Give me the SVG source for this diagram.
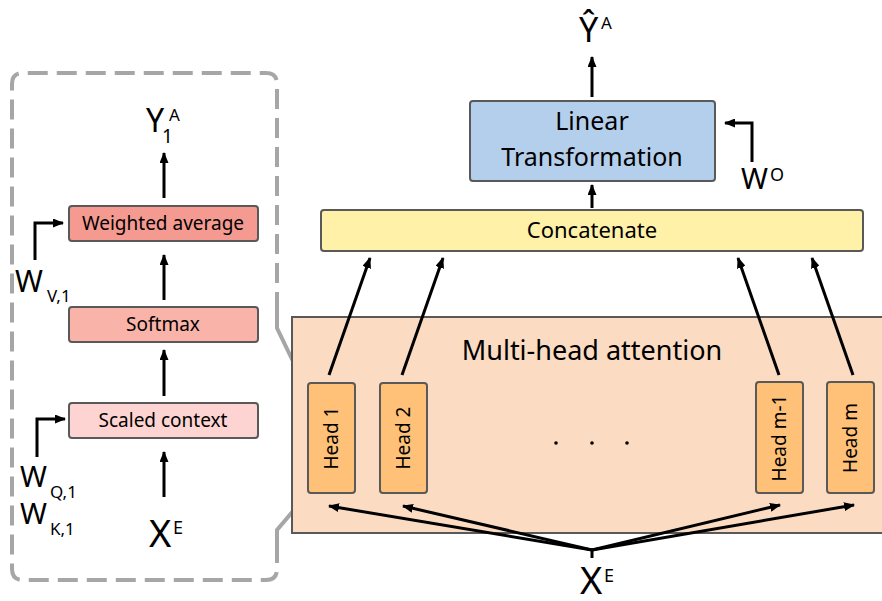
<svg xmlns="http://www.w3.org/2000/svg" width="882" height="601" viewBox="0 0 882 601">
<style>
text{font-family:"Noto Sans","Open Sans","DejaVu Sans",sans-serif;fill:#000}
.box{stroke:#595959;stroke-width:2}
.c{stroke:#000;stroke-width:3;fill:none}
.g{stroke:#A6A6A6;stroke-width:4;fill:none}
.m{text-anchor:middle}
</style>
<defs>
<marker id="ah" markerUnits="userSpaceOnUse" markerWidth="11" markerHeight="9" refX="10" refY="4.5" orient="auto">
<path d="M0,0 L11,4.5 L0,9 z" fill="#000"/>
</marker>
</defs>
<rect width="882" height="601" fill="#fff"/>

<g id="frame">
<path class="g" stroke-dasharray="20 9" d="M277,312 L277,84 Q277,73 266,73 L23,73 Q12,73 12,84 L12,569 Q12,580 23,580 L266,580 Q277,580 277,569 L277,548"/>
<path class="g" d="M277,312 L277,328 L303,382"/>
<path class="g" d="M305,497 L277,530 L277,548"/>
</g>

<g id="mha">
<rect class="box" x="292" y="317" width="594" height="216" fill="#FBDBC2"/>
<text class="m" x="592" y="360" font-size="27">Multi-head attention</text>
</g>

<g id="dots" fill="#000">
<circle cx="556" cy="443" r="1.8"/><circle cx="592" cy="443" r="1.8"/><circle cx="627" cy="443" r="1.8"/>
</g>

<g id="head1"><rect class="box" x="308" y="383" width="47" height="110" rx="3" fill="#FFC077"/>
<text class="m" font-size="19" transform="translate(338,438) rotate(-90)">Head 1</text></g>
<g id="head2"><rect class="box" x="380" y="383" width="47" height="110" rx="3" fill="#FFC077"/>
<text class="m" font-size="19" transform="translate(410,438) rotate(-90)">Head 2</text></g>
<g id="headm1"><rect class="box" x="756" y="382" width="47" height="111" rx="3" fill="#FFC077"/>
<text class="m" font-size="19" transform="translate(786,438) rotate(-90)">Head m-1</text></g>
<g id="headm"><rect class="box" x="827" y="382" width="47" height="111" rx="3" fill="#FFC077"/>
<text class="m" font-size="19" transform="translate(857,438) rotate(-90)">Head m</text></g>

<g id="concat"><rect class="box" x="321" y="210" width="542" height="41" rx="3" fill="#FFF1A8"/>
<text class="m" x="592" y="238" font-size="22">Concatenate</text></g>

<g id="linear"><rect class="box" x="470" y="101" width="245" height="80" rx="3" fill="#B4CFEC"/>
<text class="m" x="592" y="130" font-size="25">Linear</text>
<text class="m" x="592" y="166" font-size="25">Transformation</text></g>

<g id="weighted"><rect class="box" x="69" y="206" width="189" height="35" rx="3" fill="#F59A90"/>
<text class="m" x="163" y="230" font-size="19">Weighted average</text></g>
<g id="softmax"><rect class="box" x="69" y="307" width="189" height="35" rx="3" fill="#FAB3A9"/>
<text class="m" x="163" y="331" font-size="19">Softmax</text></g>
<g id="scaled"><rect class="box" x="69" y="403" width="189" height="35" rx="3" fill="#FDD4D1"/>
<text class="m" x="163" y="427" font-size="19">Scaled context</text></g>

<g id="labels">
<text x="146" y="132" font-size="32">Y</text><text x="162" y="143" font-size="19">1</text><text x="169" y="121" font-size="17">A</text>
<text x="15" y="292" font-size="30">W</text><text x="47" y="302" font-size="17">V,1</text>
<text x="20" y="487" font-size="29">W</text><text x="50" y="498" font-size="17">Q,1</text>
<text x="20" y="524" font-size="29">W</text><text x="50" y="535" font-size="17">K,1</text>
<text x="149" y="547" font-size="38">X</text><text x="173" y="534" font-size="18">E</text>
<text x="579" y="42" font-size="34">Ŷ</text><text x="601" y="29" font-size="17">A</text>
<text x="741" y="189" font-size="29">W</text><text x="770" y="181" font-size="18">O</text>
<text x="580" y="594" font-size="38">X</text><text x="604" y="582" font-size="18">E</text>
</g>

<g id="connectors">
<line class="c" x1="164" y1="198" x2="164" y2="153" marker-end="url(#ah)"/>
<line class="c" x1="164" y1="300" x2="164" y2="255" marker-end="url(#ah)"/>
<line class="c" x1="164" y1="396" x2="164" y2="350" marker-end="url(#ah)"/>
<line class="c" x1="164" y1="497" x2="164" y2="452" marker-end="url(#ah)"/>
<path class="c" d="M35,260 L35,223 L63,223" marker-end="url(#ah)"/>
<path class="c" d="M37,457 L37,419 L65,419" marker-end="url(#ah)"/>
<line class="c" x1="592" y1="97" x2="592" y2="57" marker-end="url(#ah)"/>
<line class="c" x1="592" y1="208" x2="592" y2="185" marker-end="url(#ah)"/>
<path class="c" d="M752,162 L752,123 L725,123" marker-end="url(#ah)"/>
<line class="c" x1="329" y1="375" x2="370" y2="258" marker-end="url(#ah)"/>
<line class="c" x1="402" y1="375" x2="443" y2="258" marker-end="url(#ah)"/>
<line class="c" x1="779" y1="375" x2="738" y2="258" marker-end="url(#ah)"/>
<line class="c" x1="853" y1="375" x2="812" y2="258" marker-end="url(#ah)"/>
<line class="c" x1="592" y1="550" x2="592" y2="558"/>
<line class="c" x1="592" y1="550" x2="329" y2="506" marker-end="url(#ah)"/>
<line class="c" x1="592" y1="550" x2="403" y2="506" marker-end="url(#ah)"/>
<line class="c" x1="592" y1="550" x2="780" y2="505" marker-end="url(#ah)"/>
<line class="c" x1="592" y1="550" x2="854" y2="505" marker-end="url(#ah)"/>
</g>
</svg>
